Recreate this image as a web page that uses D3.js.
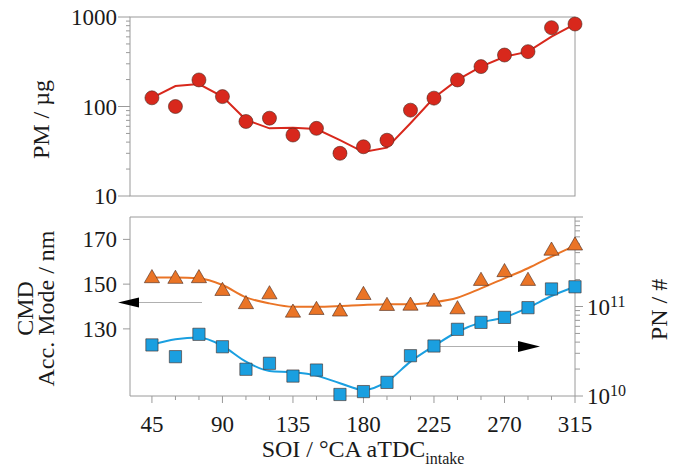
<!DOCTYPE html>
<html>
<head>
<meta charset="utf-8">
<script src="https://cdn.jsdelivr.net/npm/d3@7/dist/d3.min.js"></script>
<style>
  html, body { margin: 0; padding: 0; background: #fff; }
  svg { display: block; font-family: "Liberation Serif", "Times New Roman", serif; }
</style>
</head>
<body>
<svg id="chart" width="681" height="470"></svg>
<script>
// Start of injection, °CA aTDC intake
const soi = [45, 60, 75, 90, 105, 120, 135, 150, 165, 180, 195, 210, 225, 240, 255, 270, 285, 300, 315];
// Particulate mass, µg (measured and fitted trend)
const pm    = [125, 100, 198, 129, 68, 74, 48, 57, 30, 35.5, 42, 91, 124, 198, 279, 376, 410, 760, 835];
const pmFit = [125, 169, 178, 129, 71, 57, 58, 56, 42, 31, 34.7, 65, 125, 198, 279, 360, 410, 603, 835];
// Count median diameter of the accumulation mode, nm
const cmd    = [152.6, 152.3, 152.6, 146.9, 141.0, 145.4, 137.2, 138.4, 137.7, 145.1, 140.2, 140.3, 142.1, 138.7, 151.4, 155.3, 151.4, 164.9, 167.2];
const cmdFit = [152.9, 153.0, 152.6, 149.6, 144.1, 141.4, 139.9, 139.9, 140.2, 140.7, 141.0, 141.0, 141.9, 143.9, 148.1, 152.6, 157.1, 162.3, 167.2];
// Particle number, #
const pn    = [3.72e10, 2.75e10, 4.89e10, 3.55e10, 1.99e10, 2.32e10, 1.67e10, 1.95e10, 1.04e10, 1.12e10, 1.42e10, 2.82e10, 3.62e10, 5.56e10, 6.65e10, 7.56e10, 9.7e10, 1.57e11, 1.66e11];
const pnFit = [3.72e10, 4.3e10, 4.49e10, 3.62e10, 2.42e10, 1.9e10, 1.84e10, 1.69e10, 1.39e10, 1.17e10, 1.45e10, 2.42e10, 3.62e10, 5.22e10, 6.65e10, 7.56e10, 9.7e10, 1.31e11, 1.66e11];

// Tick values
const xTicks = [45, 90, 135, 180, 225, 270, 315];
const pmTicks = [10, 100, 1000];
const cmdTicks = [130, 150, 170];
const pnTicks = [1e10, 1e11];

const svg = d3.select("#chart");
const axisCol = "#9a9a9a";
const textCol = "#1a1a1a";
const tickFont = 23;
const titleFont = 24;

const left = 130, right = 575;
const top1 = 17, bot1 = 196;
const top2 = 217, bot2 = 396;

const x = d3.scaleLinear().domain([31, 315]).range([left, right]);
const yPM = d3.scaleLog().domain([10, 1000]).range([bot1, top1]);
const yCMD = d3.scaleLinear().domain([100, 180]).range([bot2, top2]);
const yPN = d3.scaleLog().domain([1e10, 1e12]).range([bot2, top2]);

const red = "#d8281c", orange = "#ea7426", blue = "#1a9fe0";
const markerStroke = "rgba(70,40,30,0.75)";

// ---------- Top panel: PM ----------
const gTop = svg.append("g");
gTop.append("rect")
  .attr("x", left).attr("y", top1)
  .attr("width", right - left).attr("height", bot1 - top1)
  .attr("fill", "none").attr("stroke", axisCol).attr("stroke-width", 1);

// minor log ticks on the left
const pmMinor = [];
[10, 100].forEach(d => { for (let k = 2; k <= 9; k++) pmMinor.push(d * k); });
gTop.selectAll(".pmMinor").data(pmMinor).join("line")
  .attr("x1", left - 4).attr("x2", left)
  .attr("y1", d => yPM(d)).attr("y2", d => yPM(d))
  .attr("stroke", axisCol);
gTop.selectAll(".pmMajor").data(pmTicks).join("line")
  .attr("x1", left - 12).attr("x2", left)
  .attr("y1", d => yPM(d)).attr("y2", d => yPM(d))
  .attr("stroke", axisCol);
gTop.selectAll(".pmLab").data(pmTicks).join("text")
  .attr("x", left - 13).attr("y", d => yPM(d))
  .attr("dy", "0.35em").attr("text-anchor", "end")
  .attr("font-size", tickFont).attr("fill", textCol)
  .text(d => d);

const pmLine = d3.line().x((d, i) => x(soi[i])).y(d => yPM(d));
gTop.append("path").datum(pmFit)
  .attr("d", pmLine).attr("fill", "none")
  .attr("stroke", red).attr("stroke-width", 2);
gTop.selectAll(".pmDot").data(pm).join("circle")
  .attr("cx", (d, i) => x(soi[i])).attr("cy", d => yPM(d))
  .attr("r", 7).attr("fill", red)
  .attr("stroke", markerStroke).attr("stroke-width", 0.8);

gTop.append("text")
  .attr("transform", `translate(49,${(top1 + bot1) / 2 + 13}) rotate(-90)`)
  .attr("text-anchor", "middle").attr("font-size", titleFont).attr("fill", textCol)
  .text("PM / µg");

// ---------- Bottom panel: CMD and PN ----------
const gBot = svg.append("g");
// frame lines
gBot.append("line").attr("x1", left).attr("x2", right).attr("y1", top2).attr("y2", top2).attr("stroke", axisCol);
gBot.append("line").attr("x1", left).attr("x2", right).attr("y1", bot2).attr("y2", bot2).attr("stroke", axisCol);
gBot.append("line").attr("x1", left).attr("x2", left).attr("y1", top2).attr("y2", bot2).attr("stroke", axisCol);
gBot.append("line").attr("x1", right).attr("x2", right).attr("y1", top2).attr("y2", bot2).attr("stroke", axisCol);

// left CMD axis
gBot.selectAll(".cmdTick").data(cmdTicks).join("line")
  .attr("x1", left - 7).attr("x2", left)
  .attr("y1", d => yCMD(d)).attr("y2", d => yCMD(d))
  .attr("stroke", axisCol);
gBot.selectAll(".cmdLab").data(cmdTicks).join("text")
  .attr("x", left - 13).attr("y", d => yCMD(d))
  .attr("dy", "0.35em").attr("text-anchor", "end")
  .attr("font-size", tickFont).attr("fill", textCol)
  .text(d => d);

// right PN log axis
const pnMinor = [];
[1e10, 1e11].forEach(d => { for (let k = 2; k <= 9; k++) pnMinor.push(d * k); });
gBot.selectAll(".pnMinor").data(pnMinor).join("line")
  .attr("x1", right).attr("x2", right + 5)
  .attr("y1", d => yPN(d)).attr("y2", d => yPN(d))
  .attr("stroke", axisCol);
gBot.selectAll(".pnMajor").data([1e10, 1e11, 1e12]).join("line")
  .attr("x1", right).attr("x2", right + 8)
  .attr("y1", d => yPN(d)).attr("y2", d => yPN(d))
  .attr("stroke", axisCol);
const pnLab = gBot.selectAll(".pnLab").data(pnTicks).join("text")
  .attr("x", right + 12).attr("y", d => yPN(d) + 8)
  .attr("font-size", tickFont).attr("fill", textCol);
pnLab.append("tspan").text("10");
pnLab.append("tspan").attr("dy", -8).attr("font-size", 16)
  .text(d => Math.round(Math.log10(d)));

// bottom x axis
const xMinor = d3.range(45, 316, 15).filter(v => !xTicks.includes(v));
gBot.selectAll(".xMinor").data(xMinor).join("line")
  .attr("x1", d => x(d)).attr("x2", d => x(d))
  .attr("y1", bot2).attr("y2", bot2 + 4).attr("stroke", axisCol);
gBot.selectAll(".xMajor").data(xTicks).join("line")
  .attr("x1", d => x(d)).attr("x2", d => x(d))
  .attr("y1", bot2).attr("y2", bot2 + 7).attr("stroke", axisCol);
gBot.selectAll(".xLab").data(xTicks).join("text")
  .attr("x", d => x(d)).attr("y", bot2 + 36)
  .attr("text-anchor", "middle")
  .attr("font-size", tickFont).attr("fill", textCol)
  .text(d => d);

const xLabel = gBot.append("text")
  .attr("x", 363).attr("y", 457).attr("text-anchor", "middle")
  .attr("font-size", titleFont).attr("fill", textCol);
xLabel.append("tspan").text("SOI / °CA aTDC");
xLabel.append("tspan").attr("dy", 7).attr("font-size", 16).text("intake");

// fitted curves
const cmdLine = d3.line().x((d, i) => x(soi[i])).y(d => yCMD(d)).curve(d3.curveMonotoneX);
gBot.append("path").datum(cmdFit).attr("d", cmdLine)
  .attr("fill", "none").attr("stroke", orange).attr("stroke-width", 2);
const pnLine = d3.line().x((d, i) => x(soi[i])).y(d => yPN(d)).curve(d3.curveMonotoneX);
gBot.append("path").datum(pnFit).attr("d", pnLine)
  .attr("fill", "none").attr("stroke", blue).attr("stroke-width", 2);

// direction arrows pointing at each series' axis
function arrow(x0, x1, y, headLen, headHalf) {
  const dir = Math.sign(x1 - x0);
  const baseX = x1 - dir * headLen;
  gBot.append("line").attr("x1", x0).attr("x2", baseX)
    .attr("y1", y).attr("y2", y).attr("stroke", "#b0b0b0").attr("stroke-width", 1.2);
  gBot.append("path")
    .attr("d", `M${x1},${y} L${baseX},${y - headHalf} L${baseX},${y + headHalf} Z`)
    .attr("fill", "#000");
}
arrow(202, 118, 302.5, 21, 5);
arrow(438, 540, 346.5, 22, 5.5);

// markers
gBot.selectAll(".cmdPt").data(cmd).join("path")
  .attr("transform", (d, i) => `translate(${x(soi[i])},${yCMD(d)})`)
  .attr("d", d3.symbol(d3.symbolTriangle, 100)())
  .attr("fill", orange).attr("stroke", markerStroke).attr("stroke-width", 0.8);
gBot.selectAll(".pnPt").data(pn).join("path")
  .attr("transform", (d, i) => `translate(${x(soi[i])},${yPN(d)})`)
  .attr("d", d3.symbol(d3.symbolSquare, 150)())
  .attr("fill", blue).attr("stroke", markerStroke).attr("stroke-width", 0.8);

// axis titles
const cmdTitle = gBot.append("text")
  .attr("transform", `translate(0,${(top2 + bot2) / 2 + 2}) rotate(-90)`)
  .attr("text-anchor", "middle").attr("font-size", titleFont).attr("fill", textCol);
cmdTitle.append("tspan").attr("x", 0).attr("y", 33).text("CMD");
cmdTitle.append("tspan").attr("x", 0).attr("y", 54).text("Acc. Mode / nm");

gBot.append("text")
  .attr("transform", `translate(667,${(top2 + bot2) / 2 + 3}) rotate(-90)`)
  .attr("text-anchor", "middle").attr("font-size", titleFont).attr("fill", textCol)
  .text("PN / #");
</script>
</body>
</html>
